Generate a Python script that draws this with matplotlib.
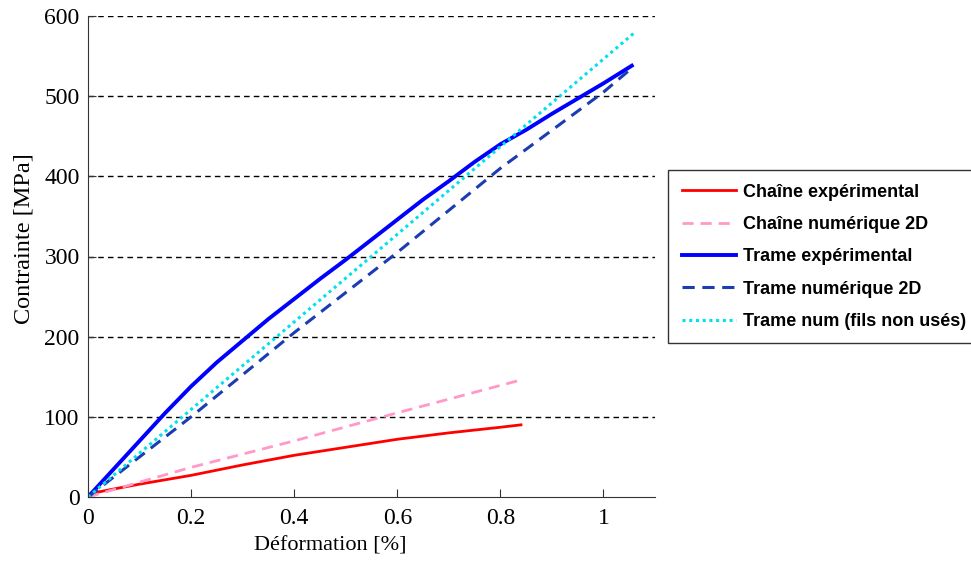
import matplotlib.pyplot as plt

# strain [%] / stress [MPa]
chaine_exp_x = [0, 0.01, 0.05, 0.1, 0.2, 0.3, 0.4, 0.5, 0.6, 0.7, 0.8, 0.84]
chaine_exp_y = [0, 5, 10, 16, 27, 40, 52, 62, 72, 80, 87, 90]

chaine_num_x = [0, 0.2, 0.4, 0.6, 0.84]
chaine_num_y = [0, 37, 70, 105, 146]

trame_exp_x = [0, 0.05, 0.1, 0.15, 0.2, 0.25, 0.3, 0.35, 0.4, 0.45, 0.5, 0.55,
               0.6, 0.65, 0.7, 0.75, 0.8, 0.85, 0.9, 0.95, 1.0, 1.055]
trame_exp_y = [0, 35, 70, 105, 138, 168, 195, 222, 247, 272, 296, 321,
               346, 371, 394, 418, 440, 458, 478, 497, 516, 538]

trame_num_x = [0, 0.2, 0.4, 0.6, 0.8, 1.0, 1.055]
trame_num_y = [0, 100, 205, 305, 410, 505, 535]

trame_fils_x = [0, 0.5, 1.058]
trame_fils_y = [0, 273, 578]

xticks = [0, 0.2, 0.4, 0.6, 0.8, 1]
xtick_labels = ['0', '0.2', '0.4', '0.6', '0.8', '1']
yticks = [0, 100, 200, 300, 400, 500, 600]

fig = plt.figure(figsize=(9.71, 5.62), dpi=100)
ax = fig.add_axes([88 / 971, 65 / 562, 567 / 971, 481 / 562])

ax.plot(chaine_exp_x, chaine_exp_y, color='#ff0000', lw=2, label='Chaîne expérimental')
ax.plot(chaine_num_x, chaine_num_y, color='#ff99c8', lw=2, ls=(0, (4, 2.5)), label='Chaîne numérique 2D')
ax.plot(trame_exp_x, trame_exp_y, color='#0000ff', lw=2.8, label='Trame expérimental')
ax.plot(trame_num_x, trame_num_y, color='#1c3cb4', lw=2.2, ls=(0, (4, 2.5)), label='Trame numérique 2D')
ax.plot(trame_fils_x, trame_fils_y, color='#00e0ee', lw=2.2, ls=(0, (1, 1.2)), label='Trame num (fils non usés)')

ax.set_xlim(0, 1.1)
ax.set_ylim(0, 600)
ax.set_xticks(xticks)
ax.set_xticklabels(xtick_labels)
ax.set_yticks(yticks)

for y in yticks[1:]:
    ax.axhline(y, color='black', lw=1, ls=(0, (4, 3)), zorder=0)

ax.spines['top'].set_visible(False)
ax.spines['right'].set_visible(False)
ax.spines['left'].set_color('#333333')
ax.spines['bottom'].set_color('#333333')
ax.tick_params(direction='in', length=6, color='#333333', labelsize=17)
ax.tick_params(axis='x', pad=8)
ax.tick_params(axis='y', pad=6)
for lab in ax.get_xticklabels() + ax.get_yticklabels():
    lab.set_fontfamily('Liberation Serif')

ax.set_xlabel('Déformation [%]', fontsize=16, family='Liberation Serif')
ax.set_ylabel('Contrainte [MPa]', fontsize=17.5, family='Liberation Serif')
ax.xaxis.set_label_coords(0.427, -0.082)
ax.yaxis.set_label_coords(-0.095, 0.538)

leg = fig.legend(loc='upper left', bbox_to_anchor=(668 / 971, 1 - 170 / 562),
                 prop={'family': 'Liberation Sans', 'weight': 'bold', 'size': 13},
                 frameon=True, fancybox=False, edgecolor='black', handlelength=3.0,
                 labelspacing=0.85, borderaxespad=0, borderpad=0.75, handletextpad=0.4)
leg.get_frame().set_linewidth(1)

fig.savefig('out.png', dpi=100)
